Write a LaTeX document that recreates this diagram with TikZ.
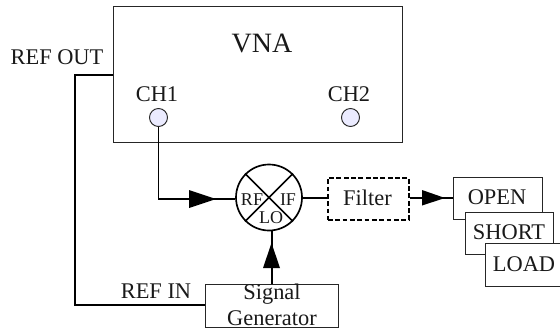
\documentclass[tikz,border=0pt]{standalone}
\usepackage{fontspec}
\setmainfont{Liberation Serif}
\tikzset{
  thin box/.style={draw=black!85,line width=0.75pt,fill=white,inner sep=0pt,anchor=north west},
  wire/.style={draw=black,line width=1.25pt},
  arrowmid/.style={fill=black,draw=none},
  port/.style={circle,draw=black!85,line width=0.7pt,fill=blue!8!white,minimum size=13.5pt,inner sep=0pt},
  lab/.style={inner sep=0pt,font=\fontsize{16.8pt}{19pt}\selectfont,text=black!90},
  smalllab/.style={inner sep=0pt,font=\fontsize{13.5pt}{15pt}\selectfont,text=black!90},
}
\begin{document}
\begin{tikzpicture}[x=0.75pt,y=-0.75pt]
\useasboundingbox (0,0) rectangle (560,329);
\node[thin box,minimum width=216.5pt,minimum height=102pt] (vna) at (113,6) {};
\node[lab,font=\fontsize{21pt}{24pt}\selectfont] (vnat) at (262,43) {VNA};
\node[lab] (refout) at (57,57) {REF OUT};
\node[lab] (ch1t) at (157,94) {CH1};
\node[lab] (ch2t) at (349,94) {CH2};
\node[port] (ch1) at (158.5,117.5) {};
\node[port] (ch2) at (350.5,117.5) {};
\node[circle,draw=black,line width=1.25pt,minimum size=49.5pt,inner sep=0pt] (mix) at (269,197.5) {};
\draw[wire] (mix.45) -- (mix.225) (mix.135) -- (mix.315);
\node[smalllab] (rf) at (252,200) {RF};
\node[smalllab] (if) at (288,200) {IF};
\node[smalllab] (lo) at (271,218) {LO};
\node[draw=black,dash pattern=on 3.6pt off 1.9pt,line width=1.25pt,minimum width=60.75pt,minimum height=31.5pt,inner sep=0pt,anchor=north west] (filter) at (327,177) {};
\node[lab] (filtert) at (367.5,198) {Filter};
\node[thin box,minimum width=100pt,minimum height=32pt] (sg) at (205,284) {};
\node[lab,align=center,font=\fontsize{16.8pt}{19.5pt}\selectfont] (sgt) at (272,305) {Signal\\Generator};
\node[thin box,minimum width=66.75pt,minimum height=31.5pt] (open) at (453,177) {};
\node[lab] (opent) at (497,197) {OPEN};
\node[thin box,minimum width=66pt,minimum height=31.5pt] (short) at (465,212) {};
\node[lab] (shortt) at (509,232) {SHORT};
\node[thin box,minimum width=60pt,minimum height=32pt] (load) at (485,243) {};
\node[lab] (loadt) at (524,264) {LOAD};
\node[lab] (refin) at (156,291) {REF IN};
\coordinate (c1) at (75,75);
\coordinate (c2) at (75,305);
\coordinate (c3) at (158.5,199);
\coordinate (fy) at (0,198);
\draw[wire] (vna.west |- c1) -- (c1) -- (c2) -- (sg.west |- c2);
\draw[wire] (ch1) -- (c3) -- (mix.west |- c3);
\draw[wire] (mix.east |- fy) -- (filter.west |- fy);
\draw[wire] (filter.east |- fy) -- (open.west |- fy);
\draw[wire] (sg.north) -- (sg.north |- mix.south);
\fill[arrowmid] (189,190) -- (216,199) -- (189,208) -- cycle;
\fill[arrowmid] (422,190) -- (445,198) -- (422,205.5) -- cycle;
\fill[arrowmid] (263,268) -- (271.5,243) -- (280,268) -- cycle;
\end{tikzpicture}
\end{document}
